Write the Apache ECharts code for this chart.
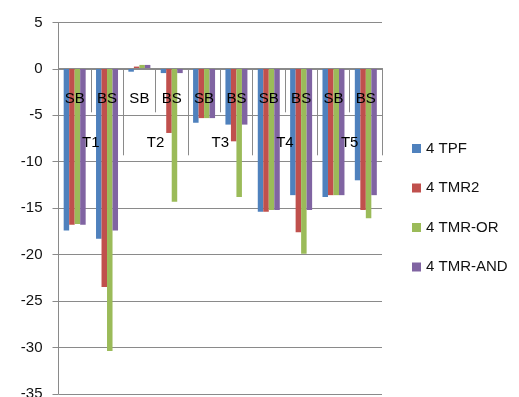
<!DOCTYPE html>
<html>
<head>
<meta charset="utf-8">
<script src="https://cdn.jsdelivr.net/npm/echarts@6/dist/echarts.min.js"></script>
<style>html,body{margin:0;padding:0;background:#fff}#c{width:519px;height:397px}</style>
</head>
<body>
<div id="c"></div>
<script>
var subCategories = ['SB','BS','SB','BS','SB','BS','SB','BS','SB','BS'];
var groupCategories = ['T1','T2','T3','T4','T5'];
var yTicks = {min: -35, max: 5, interval: 5};
var seriesNames = ['4 TPF','4 TMR2','4 TMR-OR','4 TMR-AND'];
var tpf    = [-17.4, -18.3, -0.3, -0.45, -5.8, -6.0, -15.4, -13.6, -13.8, -12.0];
var tmr2   = [-16.8, -23.5,  0.25, -6.9, -5.3, -7.8, -15.4, -17.6, -13.6, -15.2];
var tmrOr  = [-16.7, -30.4,  0.43, -14.3, -5.3, -13.8, -15.2, -19.9, -13.6, -16.1];
var tmrAnd = [-16.8, -17.4,  0.43, -0.45, -5.3, -6.0, -15.2, -15.2, -13.6, -13.6];
var colors = ['#4F81BD','#C0504D','#9BBB59','#8064A2'];

var FONT = 'Liberation Sans';
var values = [tpf, tmr2, tmrOr, tmrAnd];
var AXIS_SHIFT = -325.5;
var chart = echarts.init(document.getElementById('c'));
chart.setOption({
  animation: false,
  color: colors,
  grid: {left: 58.5, right: 137, top: 22.5, bottom: 3.2, containLabel: false, outerBoundsMode: 'none'},
  legend: {
    orient: 'vertical', left: 407, top: 136,
    itemWidth: 9, itemHeight: 9, itemGap: 24.5,
    icon: 'rect',
    textStyle: {fontFamily: FONT, fontSize: 15, color: '#111'},
    data: seriesNames
  },
  xAxis: [{
    type: 'category', data: subCategories, z: 10, position: 'bottom', offset: AXIS_SHIFT,
    axisLine: {onZero: false, lineStyle: {color: '#8a8a8a', width: 1}},
    axisTick: {show: true, length: 44, lineStyle: {color: '#8a8a8a'}},
    axisLabel: {show: true, margin: 23, fontFamily: FONT, fontSize: 15, color: '#000', interval: 0},
    splitLine: {show: false}
  }, {
    type: 'category', data: groupCategories, z: 10, position: 'bottom', offset: AXIS_SHIFT,
    axisLine: {show: false, onZero: false},
    axisTick: {show: true, length: 87, lineStyle: {color: '#8a8a8a'}},
    axisLabel: {margin: 67, fontFamily: FONT, fontSize: 15, color: '#000', interval: 0},
    splitLine: {show: false}
  }],
  yAxis: [{
    type: 'value', min: yTicks.min, max: yTicks.max, interval: yTicks.interval,
    axisLine: {show: true, lineStyle: {color: '#8a8a8a'}},
    axisTick: {show: true, length: 6, lineStyle: {color: '#8a8a8a'}},
    axisLabel: {margin: 16, fontFamily: FONT, fontSize: 15, color: '#111'},
    splitLine: {show: true, lineStyle: {color: '#8a8a8a', width: 1}}
  }],
  series: seriesNames.map(function (n, i) {
    return {
      name: n, type: 'bar', xAxisIndex: 0, data: values[i],
      barGap: '0%', barCategoryGap: '32%'
    };
  })
});
</script>
</body>
</html>
